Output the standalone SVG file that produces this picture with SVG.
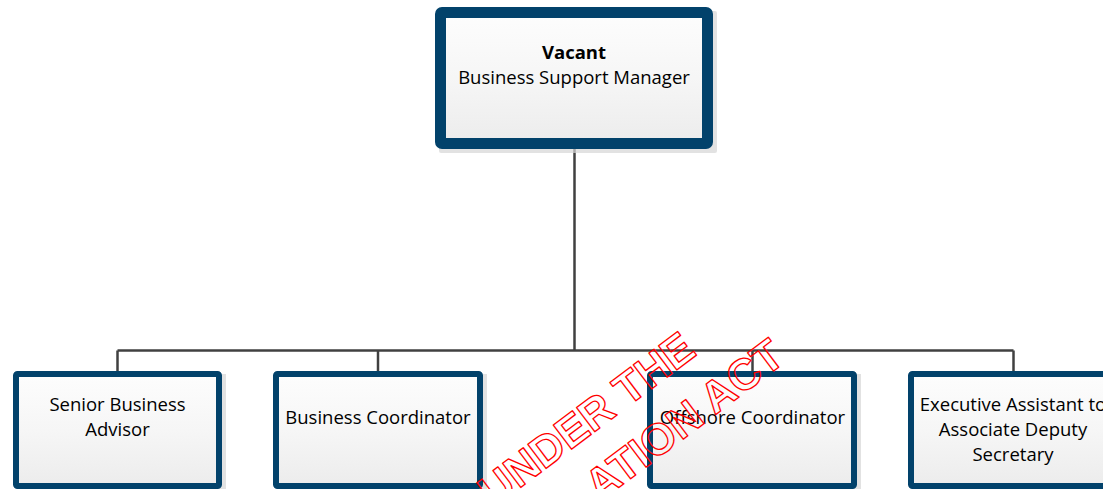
<svg xmlns="http://www.w3.org/2000/svg" width="1103" height="489" viewBox="0 0 1103 489">
  <defs>
    <linearGradient id="boxfill" x1="0" y1="0" x2="0" y2="1">
      <stop offset="0" stop-color="#fdfdfd"/>
      <stop offset="0.5" stop-color="#f6f6f6"/>
      <stop offset="1" stop-color="#ececec"/>
    </linearGradient>
    <style>
      .box { fill: url(#boxfill); stroke: #02426b; }
      .top { stroke-width: 11; }
      .sub { stroke-width: 6; }
      .shadow { fill: #d6d6d6; opacity: 0.7; }
      .label { font-family: "Open Sans", "Noto Sans", sans-serif; font-size: 18.5px; fill: #000; text-anchor: middle; }
      .bold { font-weight: bold; }
      .conn { stroke: #404040; stroke-width: 2.5; fill: none; }
      .wm { font-family: "Liberation Sans", Arial, sans-serif; font-weight: bold; font-size: 44px; fill: none; stroke: #ff0000; stroke-width: 1.3; stroke-linejoin: round; text-anchor: end; }
    </style>
  </defs>
  <rect width="1103" height="489" fill="#ffffff"/>

  <g id="connectors">
    <line class="conn" x1="574.5" y1="144" x2="574.5" y2="350.5"/>
    <line class="conn" x1="117.5" y1="350.5" x2="1013.5" y2="350.5"/>
    <line class="conn" x1="117.5" y1="350.5" x2="117.5" y2="374"/>
    <line class="conn" x1="378" y1="350.5" x2="378" y2="374"/>
    <line class="conn" x1="752.5" y1="350.5" x2="752.5" y2="374"/>
    <line class="conn" x1="1013.5" y1="350.5" x2="1013.5" y2="374"/>
  </g>

  <g id="node-manager">
    <rect class="shadow" x="439" y="11" width="278" height="142" rx="2"/>
    <rect class="box top" x="440.5" y="12.5" width="267" height="131" rx="1.5"/>
    <text class="label bold" x="574" y="59">Vacant</text>
    <text class="label" x="574" y="84">Business Support Manager</text>
  </g>

  <g id="node-senior-advisor">
    <rect class="shadow" x="16" y="374" width="210" height="120"/>
    <rect class="box sub" x="16" y="374" width="203" height="112" rx="1.5"/>
    <text class="label" x="117.5" y="411">Senior Business</text>
    <text class="label" x="117.5" y="436">Advisor</text>
  </g>

  <g id="node-business-coordinator">
    <rect class="shadow" x="276" y="374" width="211" height="120"/>
    <rect class="box sub" x="276" y="374" width="204" height="112" rx="1.5"/>
    <text class="label" x="378" y="424">Business Coordinator</text>
  </g>

  <g id="node-offshore-coordinator">
    <rect class="shadow" x="650" y="374" width="211" height="120"/>
    <rect class="box sub" x="650" y="374" width="204" height="112" rx="1.5"/>
    <text class="label" x="752.5" y="424">Offshore Coordinator</text>
  </g>

  <g id="node-executive-assistant">
    <rect class="shadow" x="911" y="374" width="211" height="120"/>
    <rect class="box sub" x="911" y="374" width="204" height="112" rx="1.5"/>
    <text class="label" x="1013" y="411">Executive Assistant to</text>
    <text class="label" x="1013" y="436">Associate Deputy</text>
    <text class="label" x="1013" y="461">Secretary</text>
  </g>

  <g id="watermark">
    <text class="wm" transform="translate(698,354) rotate(-37)">UNDER THE</text>
    <text class="wm" transform="translate(787,361) rotate(-37)">ATION ACT</text>
  </g>
</svg>
